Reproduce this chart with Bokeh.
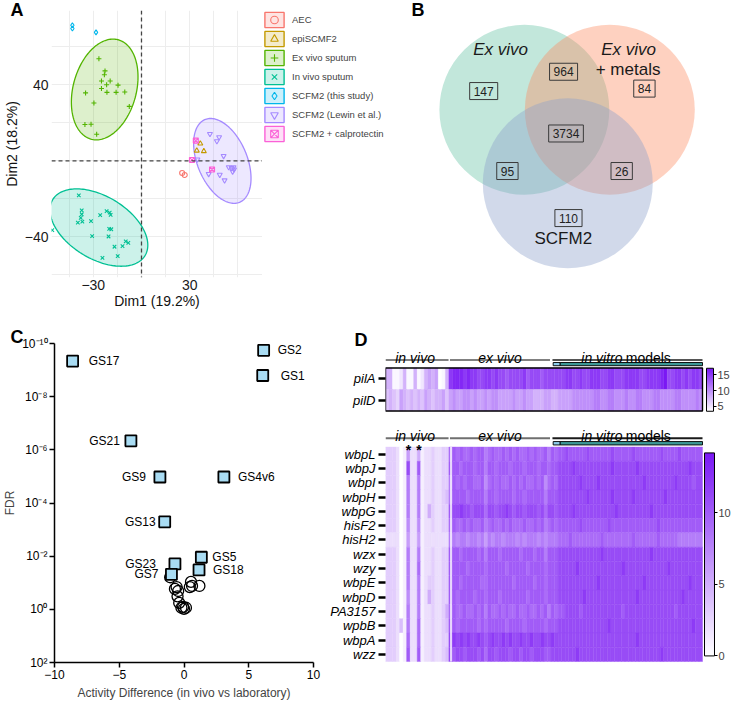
import json
import numpy as np
from bokeh.plotting import figure
from bokeh.models import (Range1d, FixedTicker, Legend, LegendItem, ColorBar,
                          LinearColorMapper, CustomJSTickFormatter, ColumnDataSource, Span)
from bokeh.layouts import row, column
from bokeh.embed import file_html
from bokeh.resources import INLINE
from bokeh.core.properties import value
from bokeh.transform import transform

FONT = "Liberation Sans"

# ------------------------------------------------------------------ Panel A data (PCA)
pca_groups = ["AEC", "epiSCMF2", "Ex vivo sputum", "In vivo sputum",
              "SCFM2 (this study)", "SCFM2 (Lewin et al.)", "SCFM2 + calprotectin"]
aec_dim1 = [25.3, 26.9]
aec_dim2 = [-6.4, -7.4]
epi_dim1 = [36.6, 34.4, 38.8]
epi_dim2 = [9.1, 5.4, 5.1]
exvivo_dim1 = [-26.5, -22.7, -23.1, -24.9, -19.5, -21.7, -14.6, -34.8, -24.9, -21.5,
               -15.8, -10.4, -29.6, -7.6, -35.2, -31.4, -27.9]
exvivo_dim2 = [53.8, 47.4, 45.4, 42.1, 42.1, 40.1, 39.9, 35.8, 38.1, 36.1,
               36.1, 36.3, 30.5, 28.7, 19.2, 19.3, 14.0]
invivo_dim1 = [-39.0, -37.2, -37.2, -37.8, -39.6, -36.8, -31.4, -25.7, -21.7, -19.8, -19.2,
               -20.1, -18.8, -20.5, -30.7, -9.8, -8.2, -16.8, -11.8, -14.8, -24.3, -55.5]
invivo_dim2 = [-18.2, -26.1, -28.1, -30.0, -32.5, -32.0, -31.7, -28.6, -26.4, -27.2, -28.4,
               -35.8, -36.0, -39.8, -39.6, -42.4, -43.2, -45.2, -44.9, -50.1, -51.1, -36.5]
scfm2_dim1 = [-43.0, -43.0, -28.3]
scfm2_dim2 = [71.4, 69.7, 67.7]
lewin_dim1 = [42.6, 48.3, 46.9, 51.1, 54.3, 56.1, 57.6, 57.3, 56.7, 48.7, 41.8, 51.7, 34.8]
lewin_dim2 = [14.2, 12.5, 10.4, 2.6, -3.3, -3.8, -4.5, -3.3, -5.6, -7.3, -6.9, -10.2, 0.8]
calpro_dim1 = [33.8, 31.4, 43.9]
calpro_dim2 = [10.7, 0.5, -4.5]
pca_dim1 = [aec_dim1, epi_dim1, exvivo_dim1, invivo_dim1, scfm2_dim1, lewin_dim1, calpro_dim1]
pca_dim2 = [aec_dim2, epi_dim2, exvivo_dim2, invivo_dim2, scfm2_dim2, lewin_dim2, calpro_dim2]
pca_colors = ["#F8766D", "#C49A00", "#53B400", "#00C094", "#00B6EB", "#A58AFF", "#FB61D7"]
pca_markers = ["circle", "triangle", "cross", "x", "diamond", "inverted_triangle", "square_x"]
pca_xticks = [-30, 30]
pca_yticks = [-40, 40]

# confidence ellipses: centre and two half-axis vectors (data units)
ellipse_group = [2, 3, 5]
ellipse_center = [(-22.9, 37.6), (-26.5, -35.1), (50.3, 0.0)]
ellipse_axis1 = [(8.3, 26.2), (28.6, -14.9), (10.7, -21.8)]
ellipse_axis2 = [(19.0, -4.2), (10.4, 13.9), (14.3, 4.9)]

# ------------------------------------------------------------------ Panel B data (Venn)
venn_sets = ["Ex vivo", "Ex vivo + metals", "SCFM2"]
venn_region = ["Ex vivo only", "Ex vivo & metals", "metals only", "all three",
               "Ex vivo & SCFM2", "metals & SCFM2", "SCFM2 only"]
venn_counts = [147, 964, 84, 3734, 95, 26, 110]

# ------------------------------------------------------------------ Panel C data
gs_names = ["GS17", "GS2", "GS1", "GS21", "GS9", "GS4v6", "GS13", "GS5", "GS23", "GS18", "GS7"]
gs_activity = [-8.6, 6.15, 6.08, -4.1, -1.86, 3.08, -1.49, 1.34, -0.70, 1.16, -0.97]
gs_fdr = [4.6e-10, 1.8e-10, 1.6e-9, 4.6e-7, 1.05e-5, 1.05e-5, 5.1e-4, 1.1e-2, 1.95e-2, 3.3e-2, 4.8e-2]
other_activity = [-1.07, -0.57, -0.45, -0.50, -0.37, -0.07, 0.15, -0.20, 0.54, 0.45, 0.62, 1.19, -0.70, 0.0]
other_fdr = [0.062, 0.145, 0.204, 0.324, 0.575, 0.813, 0.871, 0.871, 0.093, 0.145, 0.132, 0.132, 0.170, 0.955]
gs_label_dx = [16, 14, 18, -11, -14, 14, -9, 11, -19, 14, -13]
c_xticks = [-10, -5, 0, 5, 10]
c_yticks = [1e-10, 1e-8, 1e-6, 1e-4, 1e-2, 1e0, 1e2]

# ------------------------------------------------------------------ Panel D data (heatmaps)
n_invivo, n_exvivo, n_invitro = 18, 31, 41
top_rows = ["pilA", "pilD"]
top_values = [
    "884458448458989348 fgggfgffee ffefeedeee efdeeedeee e eeffeefeef ffeeffeeef fffeeffffg heeffefeff e",
    "787698787879878897 9a99aa9a99 a9aa9999a9 9a99888998 8 9999aaaaaa bbaabbaaab aabbaaabba aaabbaaaab a",
]
bottom_rows = ["wbpL", "wbpJ", "wbpI", "wbpH", "wbpG", "hisF2", "hisH2", "wzx", "wzy",
               "wbpE", "wbpD", "PA3157", "wpbB", "wbpA", "wzz"]
bottom_values = [
    "333201622512232233 9a9a99a9aa 89a99a9a9a 99a9a99a8a 9 aabaaaaaba aaaaabaaaa abaaaaaaab aaaabaaaaa a",
    "333201b22a12232233 aaa9aaa9aa 8aa9aaa9aa a9aaa9aa9a a bbbbcbbbbb bbbbbcbbbb bbcbbbbbbb bbbbbbbcbb b",
    "333201822812232233 8a9a9aa99a 79a9a99a9a 9a99a9a79a 9 bbbbbbcbbb bcbbbbbbbb bbbbcbbbbb bbbcbbbbab b",
    "333201822812232234 8aaaa9aaaa 8aa9aaaa9a a9aaaaa8aa a bbbbbbbbcb bbbbbcbbbb bcbbbbbbbb cbbbbbbbbb b",
    "333201822812532233 abbcbbabbb 9bbabbcbab babbbab9bb a bbbbcbbbbb bbbbbbcbbb bbbbbbcbbb bbbbbbbbbb b",
    "333201722712232233 9a99a9a99a 89a99a9a99 9a99a9a89a 9 aaaaaabaaa aaaabaaaaa aaaaaaaaba aaaaaaaaaa a",
    "222201622612222222 8878878878 6878878887 8788878788 8 999a999999 99a9999999 9a999999a9 9999888888 8",
    "333201822812232233 aaa9aaaa9a 8aaa9aaaaa 9aaa9aa8aa a bbbbbbbbbb bbcbbbbbbb bbbbbbcbbb bbbbbbbbbb b",
    "333201822912232233 aaaaa9aaaa 9aaaaa9aaa aa9aaaa9aa a bbbbbcbbbb bbbbbbbbcb bbbbbbbbbb bcbbbbbbbb b",
    "333201822812332233 aaa9aaaaa9 9aaaaaaa9a aaaa9aa9aa a bbbbbbbbbb bcbbbbbbbb bbbbcbbbbb bbbbbbbcbb b",
    "333201722812532233 aa9aaaa9aa 9aaa9aaaaa aa9aaaa9aa a bbbbbbbcbb bbbbbbbbbb bbcbbbbbbb bbbbbcbbbb b",
    "333201822812232235 9a99a99a9a 8a99a9a99a 99a99a9a8a 9 aabbbbabbb bbbbbbbbab bbbbbbbbbb bbbabbbbbb b",
    "333241822912232234 aa9aaaaa9a 9aaaaa9aaa a9aaaaa9aa a bbbbbbbbbb bbbbcbbbbb bbbbbbbbbb bbbbbbbbcb b",
    "333201922912232233 bcbcbcbbcb abcbbcbcbb cbbcbbcbbc b bbbbbbbbbb bbbbbbbbbb bbcbbbbbbb bbbbbbbbbb b",
    "333201a22a12232234 babbabbbab 9bbabbbabb abbabbbaab b bbbbbcbbbb bbbbbbbbbb bbbbbbbbbc bbbbbbbbbb b",
]
marked_columns = [6, 9]
top_scale = (3.5, 17.0)
bottom_scale = (0.0, 14.2)
top_cb_ticks = [5, 10, 15]
bottom_cb_ticks = [0, 5, 10]


def parse_row(s):
    vals = [int(ch, 36) for ch in s.replace(" ", "")]
    assert len(vals) == n_invivo + n_exvivo + n_invitro, (s, len(vals))
    return vals


def ramp(c0, c1, n=256):
    a = np.array([int(c0[i:i + 2], 16) for i in (1, 3, 5)], float)
    b = np.array([int(c1[i:i + 2], 16) for i in (1, 3, 5)], float)
    out = []
    for t in np.linspace(0, 1, n):
        c = a + (b - a) * t
        out.append("#%02x%02x%02x" % tuple(int(round(v)) for v in c))
    return out


PALETTE = ramp("#FFFFFF", "#7A18F4")


def panel_title(p, letter, offset, standoff):
    p.title.text = letter
    p.title.align = "left"
    p.title.offset = offset
    p.title.standoff = standoff
    p.title.text_font = FONT
    p.title.text_font_size = "18px"
    p.title.text_font_style = "bold"
    p.title.text_color = "black"


# layout constants
TOP_H, BOT_H = 313, 389
TOP_B_TOP, TOP_B_BOT = 10, 36
BOT_B_TOP, BOT_B_BOT = 30, 40

# ================================================================== Panel A
pa = figure(width=262, height=TOP_H, x_range=Range1d(-56, 75.3), y_range=Range1d(-61.4, 79.2),
            output_backend="svg", toolbar_location=None,
            min_border_left=41, min_border_right=0, min_border_top=TOP_B_TOP,
            min_border_bottom=TOP_B_BOT)
panel_title(pa, "A", -41, -18)
pa.outline_line_color = None
pa.xaxis.ticker = FixedTicker(ticks=pca_xticks)
pa.yaxis.ticker = FixedTicker(ticks=pca_yticks)
pa.xgrid.ticker = FixedTicker(ticks=[-45, -30, -15, 0, 15, 30, 45, 60])
pa.ygrid.ticker = FixedTicker(ticks=[-60, -40, -20, 0, 20, 40, 60])
pa.grid.grid_line_color = "#EDEDED"
for ax in (pa.xaxis[0], pa.yaxis[0]):
    ax.axis_line_color = None
    ax.major_tick_line_color = None
    ax.major_tick_out = 0
    ax.major_tick_in = 0
    ax.minor_tick_line_color = None
    ax.minor_tick_out = 0
    ax.major_label_text_font_size = "14px"
    ax.major_label_text_color = "#1a1a1a"
    ax.major_label_text_font = FONT
    ax.axis_label_text_font_size = "14px"
    ax.axis_label_text_font_style = "normal"
    ax.axis_label_text_font = FONT
    ax.axis_label_text_color = "#111111"
    ax.major_label_standoff = 2
    ax.axis_label_standoff = 0
pa.yaxis.major_label_standoff = 3
pa.yaxis.axis_label_standoff = 2
pa.xaxis.axis_label = "Dim1 (19.2%)"
pa.yaxis.axis_label = "Dim2 (18.2%)"

t = np.linspace(0, 2 * np.pi, 160)
for g, (cx, cy), (ux, uy), (vx, vy) in zip(ellipse_group, ellipse_center, ellipse_axis1, ellipse_axis2):
    col = pca_colors[g]
    pa.patch(cx + ux * np.cos(t) + vx * np.sin(t), cy + uy * np.cos(t) + vy * np.sin(t),
             fill_color=col, fill_alpha=0.2, line_color=col, line_width=1.3)

pa.add_layout(Span(location=0, dimension="height", line_dash="4 3", line_color="#444444", line_width=1.3))
pa.add_layout(Span(location=0, dimension="width", line_dash="4 3", line_color="#444444", line_width=1.3))

for name, xs, ys, col, mk in zip(pca_groups, pca_dim1, pca_dim2, pca_colors, pca_markers):
    pa.scatter(xs, ys, marker=mk, size=5, fill_color=None, line_color=col, line_width=1.1)

# legend of panel A (own strip, so that it is not clipped by the plot frame)
pal = figure(width=123, height=TOP_H, x_range=Range1d(0, 1), y_range=Range1d(0, 1),
             output_backend="svg", toolbar_location=None, min_border_left=0, min_border_right=0,
             min_border_top=TOP_B_TOP, min_border_bottom=TOP_B_BOT,
             x_axis_location=None, y_axis_location=None)
pal.grid.visible = False
pal.outline_line_color = None
items = []
for name, col, mk in zip(pca_groups, pca_colors, pca_markers):
    box = pal.quad(left=[np.nan], right=[np.nan], bottom=[np.nan], top=[np.nan],
                   fill_color=col, fill_alpha=0.2, line_color=col, line_width=1.4)
    mark = pal.scatter([np.nan], [np.nan], marker=mk, size=5, fill_color=None,
                       line_color=col, line_width=1.1)
    items.append(LegendItem(label=name, renderers=[box, mark]))
leg = Legend(items=items, location="top_left", orientation="vertical",
             glyph_width=24, glyph_height=19, label_height=19, spacing=0, padding=2, margin=0,
             label_standoff=6, label_text_font_size="9.5px", label_text_font=FONT,
             border_line_color=None, background_fill_alpha=0)
pal.add_layout(leg)

# ================================================================== Panel B
B_W = 346
b_scale = 0.98
b_frame_h = TOP_H - TOP_B_TOP - TOP_B_BOT
b_top_ref = 22.0
b_left_ref = 393.3
pb = figure(width=B_W, height=TOP_H, x_range=Range1d(b_left_ref, b_left_ref + B_W / b_scale),
            y_range=Range1d(b_top_ref + b_frame_h / b_scale, b_top_ref),
            output_backend="svg", toolbar_location=None, min_border_left=0, min_border_right=0,
            min_border_top=TOP_B_TOP, min_border_bottom=TOP_B_BOT,
            x_axis_location=None, y_axis_location=None)
panel_title(pb, "B", 26, -18)
pb.grid.visible = False
pb.outline_line_color = None
venn_cx = [535.0, 622.2, 579.3]
venn_cy = [123.3, 123.3, 198.3]
venn_r = 86.7
venn_colors = ["#66C2A5", "#FC8D62", "#8DA0CB"]
pb.circle(x=venn_cx, y=venn_cy, radius=venn_r, fill_color=venn_colors, fill_alpha=0.4, line_color=None)
count_x = [493.5, 575.0, 657.5, 577.5, 517.7, 634.3, 580.0]
count_y = [104.2, 84.5, 101.7, 147.5, 185.8, 185.8, 233.8]
pb.text(x=count_x, y=count_y, text=[str(c) for c in venn_counts], text_align="center",
        text_baseline="middle", text_font=value(FONT), text_font_size="12px", text_color="#222222",
        border_line_color="#3a3a3a", border_line_width=1, padding=4)
pb.text(x=[510.8, 641.3], y=[61.7, 61.7], text=["Ex vivo", "Ex vivo"], text_align="center",
        text_baseline="middle", text_font=value(FONT), text_font_size="17px",
        text_font_style="italic", text_color="#1a1a1a")
pb.text(x=[640.8, 574.7], y=[81.7, 255.0], text=["+ metals", "SCFM2"], text_align="center",
        text_baseline="middle", text_font=value(FONT), text_font_size="17px", text_color="#1a1a1a")

# ================================================================== Panel C
pc = figure(width=324, height=BOT_H, x_range=Range1d(-10, 10), y_range=Range1d(1e2, 1e-10),
            y_axis_type="log", output_backend="svg", toolbar_location=None,
            min_border_left=44, min_border_right=11, min_border_top=BOT_B_TOP,
            min_border_bottom=BOT_B_BOT)
panel_title(pc, "C", -44, -6)
pc.grid.visible = False
pc.outline_line_color = None
pc.xaxis.ticker = FixedTicker(ticks=c_xticks)
pc.yaxis.ticker = FixedTicker(ticks=c_yticks)
pc.yaxis.formatter = CustomJSTickFormatter(code="""
const e = Math.round(Math.log10(tick));
const sup = {"-": "\u207b", "0": "\u2070", "1": "\u00b9", "2": "\u00b2", "3": "\u00b3",
             "4": "\u2074", "5": "\u2075", "6": "\u2076", "7": "\u2077", "8": "\u2078", "9": "\u2079"};
return "10" + String(e).split("").map(c => sup[c]).join("");
""")
for ax in (pc.xaxis[0], pc.yaxis[0]):
    ax.axis_line_width = 1.5
    ax.axis_line_color = "black"
    ax.major_tick_line_width = 1.5
    ax.major_tick_out = 5
    ax.major_tick_in = 0
    ax.minor_tick_line_color = None
    ax.minor_tick_out = 0
    ax.major_label_text_font = FONT
    ax.major_label_text_font_size = "12px"
    ax.major_label_text_color = "black"
    ax.major_label_standoff = 2
    ax.axis_label_text_font = FONT
    ax.axis_label_text_font_size = "12px"
    ax.axis_label_text_font_style = "normal"
    ax.axis_label_standoff = 4
pc.yaxis.axis_label_standoff = 2
pc.xaxis.axis_label = "Activity Difference (in vivo vs laboratory)"
pc.yaxis.axis_label = "FDR"

pc.scatter(other_activity, other_fdr, marker="circle", size=11, fill_color=None,
           line_color="black", line_width=1.3)
pc.scatter(gs_activity, gs_fdr, marker="square", size=11, fill_color="#A9DCF3",
           line_color="black", line_width=1.8)
for side, align in (("right", "left"), ("left", "right")):
    idx = [i for i, d in enumerate(gs_label_dx) if (d > 0) == (side == "right")]
    pc.text(x=[gs_activity[i] for i in idx], y=[gs_fdr[i] for i in idx],
            text=[gs_names[i] for i in idx], x_offset=[gs_label_dx[i] for i in idx],
            text_align=align, text_baseline="middle", text_font=value(FONT),
            text_font_size="12px", text_color="black")

# ================================================================== Panel D
ncol = n_invivo + n_exvivo + n_invitro
D_W, D_LEFT = 407, 61
heat_px = 317.0
d_frame_w = D_W - D_LEFT
d_frame_h = BOT_H - BOT_B_TOP - BOT_B_BOT
d_top_ref, d_bot_ref = 360.0, 699.0          # vertical reference coordinates in the frame
k = d_frame_h / (d_bot_ref - d_top_ref)
pdd = figure(width=D_W, height=BOT_H, x_range=Range1d(0, ncol * d_frame_w / heat_px),
             y_range=Range1d(d_bot_ref, d_top_ref), output_backend="svg", toolbar_location=None,
             min_border_left=D_LEFT, min_border_right=0, min_border_top=BOT_B_TOP,
             min_border_bottom=BOT_B_BOT, x_axis_location=None)
panel_title(pdd, "D", -31, -13)
pdd.grid.visible = False
pdd.outline_line_color = None

top_y0, top_y1 = 386.0, 431.7
bot_y0, bot_y1 = 470.0, 698.0
top_h = (top_y1 - top_y0) / len(top_rows)
bot_h = (bot_y1 - bot_y0) / len(bottom_rows)
top_centers = [top_y0 + top_h * (i + 0.5) for i in range(len(top_rows))]
bot_centers = [bot_y0 + bot_h * (i + 0.5) for i in range(len(bottom_rows))]

top_mapper = LinearColorMapper(palette=PALETTE, low=top_scale[0], high=top_scale[1])
bot_mapper = LinearColorMapper(palette=PALETTE, low=bottom_scale[0], high=bottom_scale[1])


def heat_source(values, centers):
    xs, ys, vs = [], [], []
    for s, yc in zip(values, centers):
        for j, v in enumerate(parse_row(s)):
            xs.append(j + 0.5)
            ys.append(yc)
            vs.append(v)
    return ColumnDataSource(dict(x=xs, y=ys, v=vs))


pdd.rect(x="x", y="y", width=1, height=top_h, source=heat_source(top_values, top_centers),
         fill_color=transform("v", top_mapper), line_color=transform("v", top_mapper), line_width=0.4)
pdd.rect(x="x", y="y", width=1, height=bot_h, source=heat_source(bottom_values, bot_centers),
         fill_color=transform("v", bot_mapper), line_color=transform("v", bot_mapper), line_width=0.4)
pdd.segment(x0=[n_invivo + 0.6], y0=[bot_y0], x1=[n_invivo + 0.6], y1=[bot_y1],
            line_color="white", line_width=1.5)
pdd.quad(left=[0], right=[ncol], top=[top_y0], bottom=[top_y1], fill_color=None,
         line_color="black", line_width=1.4)

# group headers
iv_end, ev_end = n_invivo, n_invivo + n_exvivo
for base, line_y, cols in ((375.5, 377.6, ("#808080", "#808080", "#555555")),
                           (458.0, 460.7, ("#6f6f6f", "#6f6f6f", "#1a1a1a"))):
    pdd.segment(x0=[0, iv_end + 0.3, ev_end - 1.6], y0=[line_y] * 3,
                x1=[iv_end - 0.1, ev_end - 2.3, ncol], y1=[line_y] * 3,
                line_color=list(cols), line_width=2)
    pdd.text(x=[8.4, 32.5], y=[base, base], text=["in vivo", "ex vivo"], text_align="center",
             text_baseline="alphabetic", text_font=value(FONT), text_font_size="14px",
             text_font_style="italic")
    pdd.text(x=[67.3], y=[base], text=["in vitro"], text_align="right", text_baseline="alphabetic",
             text_font=value(FONT), text_font_size="14px", text_font_style="italic")
    pdd.text(x=[68.2], y=[base], text=["models"], text_align="left", text_baseline="alphabetic",
             text_font=value(FONT), text_font_size="14px")
for y0, y1 in ((380.2, 383.6), (464.2, 467.8)):
    pdd.quad(left=[ev_end - 1.4, ev_end + 0.6], right=[ev_end + 0.6, ncol], top=[y0, y0],
             bottom=[y1, y1], fill_color=["#8CCBEA", "#3C9795"], line_color="black", line_width=0.9)
pdd.text(x=[c + 0.5 for c in marked_columns], y=[473.5] * len(marked_columns),
         text=["*"] * len(marked_columns), text_align="center", text_baseline="alphabetic",
         text_font=value(FONT), text_font_size="14px", text_font_style="bold")

# y axis with gene names
tick_pos = [round(v, 1) for v in top_centers + bot_centers]
label_map = {f"{v:.1f}": n for v, n in zip(tick_pos, top_rows + bottom_rows)}
pdd.yaxis.ticker = FixedTicker(ticks=tick_pos)
pdd.yaxis.formatter = CustomJSTickFormatter(
    code="const m = %s; const k = tick.toFixed(1); return (k in m) ? m[k] : '';" % json.dumps(label_map))
ya = pdd.yaxis[0]
ya.axis_line_color = None
ya.major_tick_in = 0
ya.major_tick_out = 7
ya.major_tick_line_width = 2.5
ya.major_tick_line_color = "black"
ya.minor_tick_line_color = None
ya.minor_tick_out = 0
ya.major_label_standoff = 3
ya.major_label_text_font = FONT
ya.major_label_text_font_size = "13px"
ya.major_label_text_font_style = "italic"
ya.major_label_text_color = "black"

cb_common = dict(padding=0, margin=0, major_tick_in=0, major_tick_out=3, major_tick_line_color="black",
                 bar_line_color="black", border_line_color=None, background_fill_alpha=0,
                 label_standoff=1, major_label_text_font=FONT, major_label_text_font_size="11px",
                 minor_tick_line_color=None)
cb_top = ColorBar(color_mapper=top_mapper, location=(321, (d_bot_ref - 432.0) * k), width=7,
                  height=int(round((432.0 - 386.0) * k)), ticker=FixedTicker(ticks=top_cb_ticks), **cb_common)
cb_bot = ColorBar(color_mapper=bot_mapper, location=(319, (d_bot_ref - 692.0) * k), width=10,
                  height=int(round((692.0 - 476.0) * k)), ticker=FixedTicker(ticks=bottom_cb_ticks), **cb_common)
pdd.add_layout(cb_top)
pdd.add_layout(cb_bot)

layout = column(row(pa, pal, pb), row(pc, pdd))
open("out.html", "w").write(file_html(layout, INLINE, title="Figure"))
